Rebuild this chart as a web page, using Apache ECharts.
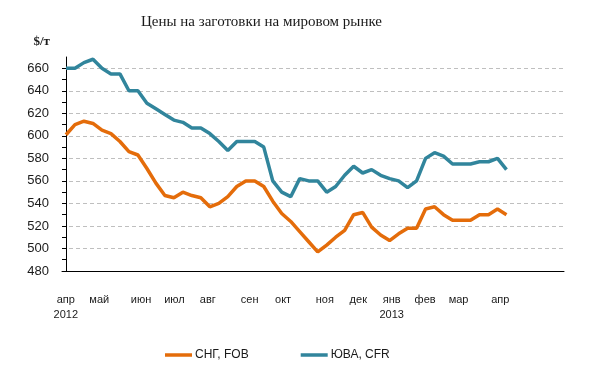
<!DOCTYPE html>
<html>
<head>
<meta charset="utf-8">
<script src="https://cdn.jsdelivr.net/npm/echarts@6/dist/echarts.min.js"></script>
<style>html,body{margin:0;padding:0;background:#fff;}#c{width:601px;height:372px;}</style>
</head>
<body>
<div id="c"></div>
<script>
// Month labels and their weekly slot positions on the date axis
const monthLabels = ['апр\n2012','май','июн','июл','авг','сен','окт','ноя','дек','янв\n2013','фев','мар','апр'];
const monthWeeks = [0,4,9,13,17,22,26,31,35,39,43,47,52];

// Weekly price observations, $/t
const cisFob = [601,610,613,611,605,602,595,586,583,571,558,547,545,550,547,545,537,540,546,555,
                560,560,555,542,531,524,515,506,497,503,510,516,530,532,519,512,507,513,518,518,
                535,537,530,525,525,525,530,530,535,530];
const seaCfr = [660,660,665,668,660,655,655,640,640,629,624,619,614,612,607,607,602,595,587,595,
                595,595,590,560,550,546,562,560,560,550,555,565,573,567,570,565,562,560,554,560,
                580,585,582,575,575,575,577,577,580,570];

const seriesNames = ['СНГ, FOB','ЮВА, CFR'];
const seriesColors = ['#E46C0A','#31859C'];

const chart = echarts.init(document.getElementById('c'), null, {renderer:'canvas'});
const sans = 'Liberation Sans, Arial, sans-serif';
chart.setOption({
  animation:false,
  backgroundColor:'#fff',
  title:{
    text:'Цены на заготовки на мировом рынке',
    left:136, top:10,
    textStyle:{fontFamily:'Liberation Serif, serif', fontSize:15, fontWeight:'normal', color:'#1a1a1a'}
  },
  legend:{
    left:160, top:344,
    itemWidth:27, itemHeight:3.5, itemGap:52,
    icon:'rect',
    textStyle:{fontFamily:sans, fontSize:12, color:'#1a1a1a', padding:[0,0,0,-2]},
    data:seriesNames
  },
  grid:{left:62, right:37, top:57, bottom:101, outerBoundsMode:'none'},
  xAxis:[
    {type:'value', min:-0.445, max:55.4, show:false},
    {type:'value', position:'bottom', min:-0.455, max:59.62,
     axisLine:{show:true, lineStyle:{color:'#000', width:1}},
     axisTick:{show:false},
     splitLine:{show:false},
     axisLabel:{
       customValues:monthWeeks,
       margin:21,
       fontFamily:sans, fontSize:11, color:'#1a1a1a', lineHeight:15,
       verticalAlign:'top',
       formatter:function(v){ const k = monthWeeks.indexOf(Math.round(v)); return k>=0 ? monthLabels[k] : ''; }
     }}
  ],
  yAxis:{
    type:'value', min:480, max:670, interval:10,
    name:'$/т', nameLocation:'end', nameGap:9,
    nameTextStyle:{fontFamily:'Liberation Serif, serif', fontWeight:'bold', fontSize:13, color:'#1a1a1a', align:'right', padding:[0,16,0,0]},
    axisLine:{show:true, lineStyle:{color:'#000', width:1}},
    axisTick:{show:true, inside:false, length:4, lineStyle:{color:'#000'}},
    axisLabel:{margin:13, fontFamily:sans, fontSize:13, color:'#1a1a1a',
      showMaxLabel:false,
      formatter:function(v){ return v % 20 === 0 ? String(v) : ''; }},
    splitLine:{show:true, showMinLine:true, showMaxLine:true,
      lineStyle:{color:['#BFBFBF','rgba(0,0,0,0)'], type:[4,3], width:1}}
  },
  series:[
    {name:seriesNames[0], type:'line', xAxisIndex:0, symbol:'none', color:seriesColors[0],
     lineStyle:{width:3.5, color:seriesColors[0]},
     data:cisFob.map(function(v,i){return [i,v];})},
    {name:seriesNames[1], type:'line', xAxisIndex:0, symbol:'none', color:seriesColors[1],
     lineStyle:{width:3.5, color:seriesColors[1]},
     data:seaCfr.map(function(v,i){return [i,v];})}
  ]
});
</script>
</body>
</html>
